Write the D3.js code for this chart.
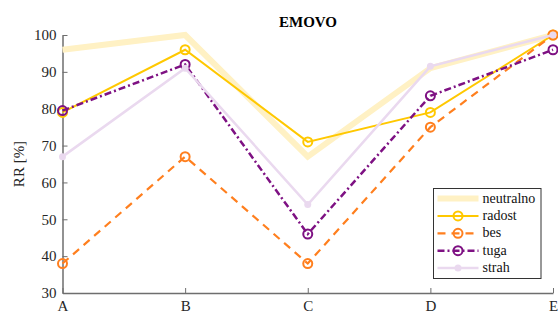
<!DOCTYPE html>
<html>
<head>
<meta charset="utf-8">
<script src="https://cdn.jsdelivr.net/npm/d3@7.9.0/dist/d3.min.js"></script>
<style>
  body { margin: 0; background: #fff; }
</style>
</head>
<body>
<svg id="chart" width="558" height="312"></svg>
<script>
const categories = ['A', 'B', 'C', 'D', 'E'];
const yTicks = [30, 40, 50, 60, 70, 80, 90, 100];

const neutralno = [96, 100, 67, 91, 100];
const radost = [79, 96, 71, 79, 100];
const bes = [38, 67, 38, 75, 100];
const tuga = [79.5, 92, 46, 83.5, 96];
const strah = [67, 91, 54, 91.5, 100];

const series = [
  { name: 'neutralno', values: neutralno, color: '#fff1c4', width: 6, dash: null, marker: 'none' },
  { name: 'radost', values: radost, color: '#ffc800', width: 2, dash: null, marker: 'open' },
  { name: 'bes', values: bes, color: '#ff7f1e', width: 2.2, dash: '8,6', marker: 'open' },
  { name: 'tuga', values: tuga, color: '#7e1183', width: 2.5, dash: '7,3,2,3', marker: 'open' },
  { name: 'strah', values: strah, color: '#ead9ef', width: 2.5, dash: null, marker: 'dot' }
];

const serif = "'Liberation Serif', 'DejaVu Serif', 'Times New Roman', serif";

const svg = d3.select('#chart');
const margin = { left: 62.5, right: 5, top: 35, bottom: 19 };
const W = 558, H = 312;

const x = d3.scalePoint().domain(categories).range([margin.left, W - margin.right]);
const y = d3.scaleLinear().domain([30, 100]).range([H - margin.bottom, margin.top]);

// axes (left + bottom only, ticks pointing in)
const axisColor = '#6e6e6e';
const yAxis = svg.append('g')
  .attr('transform', `translate(${margin.left},0)`)
  .call(d3.axisLeft(y).tickValues(yTicks).tickSizeInner(-5).tickSizeOuter(0).tickPadding(6));
const xAxis = svg.append('g')
  .attr('transform', `translate(0,${H - margin.bottom})`)
  .call(d3.axisBottom(x).tickSizeInner(-5).tickSizeOuter(0).tickPadding(7));

[yAxis, xAxis].forEach(g => {
  g.attr('font-family', serif).attr('font-size', 15);
  g.select('.domain').attr('stroke', axisColor).attr('stroke-width', 1.5);
  g.selectAll('.tick line').attr('stroke', axisColor);
  g.selectAll('.tick text').attr('fill', '#262626');
});

svg.append('text')
  .attr('x', 308).attr('y', 27)
  .attr('text-anchor', 'middle')
  .attr('font-family', serif)
  .attr('font-size', 15).attr('font-weight', 'bold')
  .text('EMOVO');

svg.append('text')
  .attr('transform', `translate(24,${(margin.top + H - margin.bottom) / 2}) rotate(-90)`)
  .attr('text-anchor', 'middle')
  .attr('fill', '#262626')
  .attr('font-family', serif)
  .attr('font-size', 15)
  .text('RR [%]');

const line = d3.line().x((d, i) => x(categories[i])).y(d => y(d));

series.forEach(s => {
  svg.append('path')
    .attr('d', line(s.values))
    .attr('fill', 'none')
    .attr('stroke', s.color)
    .attr('stroke-width', s.width)
    .attr('stroke-dasharray', s.dash)
    .attr('stroke-linejoin', 'miter');

  if (s.marker === 'open') {
    svg.selectAll(null).data(s.values).enter().append('circle')
      .attr('cx', (d, i) => x(categories[i]))
      .attr('cy', d => y(d))
      .attr('r', 4.5)
      .attr('fill', 'none')
      .attr('stroke', s.color)
      .attr('stroke-width', 2);
  } else if (s.marker === 'dot') {
    svg.selectAll(null).data(s.values).enter().append('circle')
      .attr('cx', (d, i) => x(categories[i]))
      .attr('cy', d => y(d))
      .attr('r', 3.5)
      .attr('fill', s.color);
  }
});

// legend
const lg = svg.append('g').attr('transform', 'translate(433.5,188.5)');
lg.append('rect')
  .attr('width', 107.5).attr('height', 90)
  .attr('fill', '#fff').attr('stroke', '#333').attr('stroke-width', 1);

series.forEach((s, i) => {
  const yy = 10 + i * 17.4;
  lg.append('line')
    .attr('x1', 4).attr('x2', 45).attr('y1', yy).attr('y2', yy)
    .attr('stroke', s.color)
    .attr('stroke-width', s.width)
    .attr('stroke-dasharray', s.dash);
  if (s.marker === 'open') {
    lg.append('circle').attr('cx', 24.5).attr('cy', yy).attr('r', 4.5)
      .attr('fill', 'none').attr('stroke', s.color).attr('stroke-width', 2);
  } else if (s.marker === 'dot') {
    lg.append('circle').attr('cx', 24.5).attr('cy', yy).attr('r', 3.5).attr('fill', s.color);
  }
  lg.append('text')
    .attr('x', 49).attr('y', yy + 4)
    .attr('fill', '#111')
    .attr('font-family', serif)
    .attr('font-size', 14)
    .text(s.name);
});
</script>
</body>
</html>
